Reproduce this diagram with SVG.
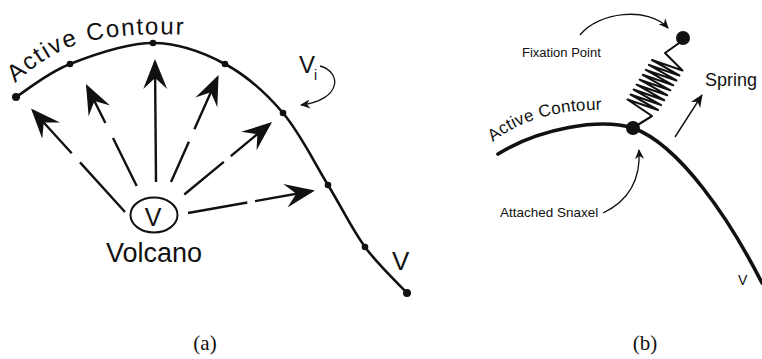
<svg xmlns="http://www.w3.org/2000/svg" width="762" height="359" viewBox="0 0 762 359">
<style>
.t{font-family:"Liberation Sans",Arial,sans-serif;fill:#111}
.cap{font-family:"Liberation Serif","Times New Roman",serif;fill:#111;font-size:21px}
.contour{fill:none;stroke:#111;stroke-width:2.6;stroke-linecap:round}
.arr{fill:none;stroke:#111;stroke-width:2.4;marker-end:url(#big)}
.thin{fill:none;stroke:#111;stroke-width:1.3;marker-end:url(#small)}
.dot{fill:#111}
</style>
<defs>
<marker id="big" markerUnits="userSpaceOnUse" viewBox="-30 -13 34 26" markerWidth="34" markerHeight="26" refX="0" refY="0" orient="auto" overflow="visible">
<path d="M3,0 L-27,-12 L-16,0 L-27,12 Z" fill="#111"/>
</marker>
<marker id="small" markerUnits="userSpaceOnUse" viewBox="-12 -6 14 12" markerWidth="14" markerHeight="12" refX="0" refY="0" orient="auto" overflow="visible">
<path d="M1,0 L-9,-4.5 L-6,0 L-9,4.5 Z" fill="#111"/>
</marker>
<marker id="mid" markerUnits="userSpaceOnUse" viewBox="-14 -7 16 14" markerWidth="16" markerHeight="14" refX="0" refY="0" orient="auto" overflow="visible">
<path d="M1,0 L-12,-5.5 L-8,0 L-12,5.5 Z" fill="#111"/>
</marker>
<path id="acA" d="M15,83 C42,60 64,45 100,39 S160,34 200,35"/>
<path id="acB" d="M493,142 C520,120 560,108 612,110"/>
</defs>

<!-- Panel (a) -->
<g id="contour-a">
<path class="contour" d="M16,97 C25,91.5 47.2,73 70,64 C92.8,55 127.2,43 153,43 C178.8,43 203.3,52.3 225,64 C246.7,75.7 265.8,92.8 283,113 C300.2,133.2 314.3,162.7 328,185 C341.7,207.3 351.8,229 365,247 C378.2,265 400,285.3 407,293"/>
<circle class="dot" cx="16" cy="97" r="4"/>
<circle class="dot" cx="70" cy="64" r="3.3"/>
<circle class="dot" cx="153" cy="43" r="3.3"/>
<circle class="dot" cx="225" cy="64" r="3.3"/>
<circle class="dot" cx="283" cy="113" r="3.3"/>
<circle class="dot" cx="328" cy="185" r="3.3"/>
<circle class="dot" cx="365" cy="247" r="3.3"/>
<circle class="dot" cx="407" cy="293" r="4"/>
<text class="t" font-size="24" letter-spacing="1.8"><textPath href="#acA">Active Contour</textPath></text>
</g>
<g id="volcano">
<ellipse cx="154" cy="215" rx="23.5" ry="17.5" fill="none" stroke="#111" stroke-width="2"/>
<text class="t" x="153" y="226" font-size="25" text-anchor="middle">V</text>
<text class="t" x="154" y="262" font-size="27" text-anchor="middle">Volcano</text>
</g>
<g id="label-vi">
<text class="t" x="299" y="73" font-size="24">V</text>
<text class="t" x="314" y="80" font-size="14">i</text>
</g>
<g id="label-v-a">
<text class="t" x="392" y="270" font-size="26">V</text>
</g>

<!-- Panel (b) -->
<g id="contour-b">
<path fill="none" stroke="#111" stroke-width="3.6" stroke-linecap="round" d="M498,154 C540,128 600,118 633,128 C680,145 730,220 762,283"/>
<text class="t" font-size="17" letter-spacing="0.3"><textPath href="#acB">Active Contour</textPath></text>
</g>
<g id="snaxel">
<circle class="dot" cx="633" cy="128" r="7"/>
</g>
<g id="fixation-point">
<circle class="dot" cx="683" cy="38" r="7"/>
<text class="t" x="522" y="57" font-size="13">Fixation Point</text>
</g>
<g id="spring">
<polyline fill="none" stroke="#111" stroke-width="2.1" stroke-linejoin="round" points="682,41 665,53 682.5,70.5 652,60 679.4,75.4 648.9,64.9 676.4,80.4 645.9,69.9 673.3,85.3 642.8,74.8 670.3,90.3 639.7,79.7 667.2,95.2 636.7,84.7 664.2,100.2 633.6,89.6 661.1,105.1 630.6,94.6 658,110 627.5,99.5 652,116 636,126"/>
<text class="t" x="705" y="86" font-size="18">Spring</text>
</g>
<g id="attached-snaxel-label">
<text class="t" x="500" y="217" font-size="13.5">Attached Snaxel</text>
</g>
<g id="label-v-b">
<text class="t" x="738" y="285" font-size="14">V</text>
</g>

<!-- Connectors -->
<g id="connectors">
<path class="arr" d="M125,212 L80,162.4 M71.7,153.3 L33,110.7"/>
<path class="arr" d="M136.7,186 L113,138 M105.4,123 L87.3,86.7"/>
<path class="arr" d="M156,182 L155,62"/>
<path class="arr" d="M171,182 L188.9,141.7 M194.4,129.3 L217.3,77.7"/>
<path class="arr" d="M184.3,194.5 L223.8,161.9 M230.8,156.1 L269.7,123.9"/>
<path class="arr" d="M188,213 L247.3,202.5 M255,201.1 L312,191"/>
<path class="thin" d="M320,66 C342,72 342,100 301,105"/>
<path class="thin" d="M580,35 C598,12 648,6 668,28"/>
<path fill="none" stroke="#111" stroke-width="1.4" marker-end="url(#mid)" d="M675,137 L702,95"/>
<path class="thin" d="M603,213 C626,202 641,182 639,150"/>
</g>

<text class="cap" x="205" y="350" text-anchor="middle">(a)</text>
<text class="cap" x="645" y="350" text-anchor="middle">(b)</text>
</svg>
